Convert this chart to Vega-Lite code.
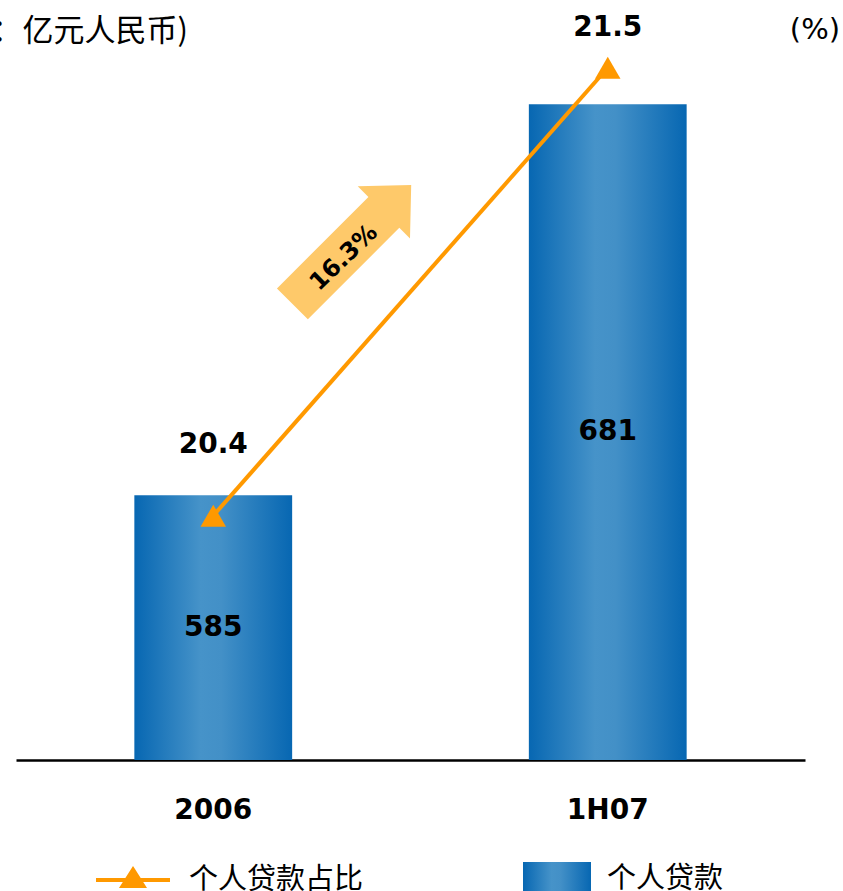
{
  "$schema": "https://vega.github.io/schema/vega-lite/v6.json",
  "width": 789,
  "height": 733,
  "autosize": {"type": "none"},
  "padding": {"left": 16, "top": 27, "right": 38, "bottom": 131},
  "background": "white",
  "config": {"view": {"stroke": null}, "font": "DejaVu Sans"},
  "datasets": {
    "loans": [
      {"period": "2006", "loans": 585, "share": 20.4},
      {"period": "1H07", "loans": 681, "share": 21.5}
    ],
    "notes": [
      {"growth": "16.3%", "unit": "(单位：亿元人民币)", "pctUnit": "(%)"}
    ]
  },
  "data": {"name": "loans"},
  "layer": [
    {
      "mark": {
        "type": "bar",
        "color": {
          "gradient": "linear",
          "x1": 0, "y1": 0, "x2": 1, "y2": 0,
          "stops": [
            {"offset": 0, "color": "#0767b2"},
            {"offset": 0.42, "color": "#4693c9"},
            {"offset": 0.55, "color": "#4390c7"},
            {"offset": 1, "color": "#0767b2"}
          ]
        }
      },
      "encoding": {
        "x": {
          "field": "period", "type": "nominal", "sort": null,
          "scale": {"domain": ["2006", "1H07"], "paddingInner": 0.6, "paddingOuter": 0.3},
          "axis": {
            "title": null, "labelAngle": 0, "labelFont": "DejaVu Sans", "labelFontWeight": "bold",
            "labelFontSize": 28, "labelColor": "#000", "labelPadding": 36, "ticks": false,
            "domainColor": "#000", "domainWidth": 2.5, "grid": false
          }
        },
        "y": {
          "field": "loans", "type": "quantitative",
          "scale": {"domain": [520, 700], "zero": false, "nice": false},
          "axis": null
        },
        "y2": {"datum": 520},
        "opacity": {
          "datum": "个人贷款", "type": "nominal",
          "scale": {"range": [1]},
          "legend": {
            "title": null, "orient": "none", "legendX": 506, "legendY": 817, "padding": 0,
            "symbolType": "M-1,-0.5H1V0.5H-1Z M-0.5,-0.5V0.5 M0,-0.5V0.5 M0.5,-0.5V0.5 M-1,0H1",
            "symbolSize": 4624, "symbolStrokeWidth": 1.5, "symbolOpacity": 1,
            "symbolFillColor": "#4a93c9", "symbolStrokeColor": "#1c6cb0",
            "labelFont": "Noto Sans CJK SC", "labelFontSize": 29, "labelColor": "#000", "labelOffset": 15, "labelLimit": 400
          }
        }
      }
    },
    {
      "mark": {"type": "line", "strokeWidth": 4},
      "encoding": {
        "x": {"field": "period", "type": "nominal", "sort": null},
        "y": {"field": "share", "type": "quantitative", "scale": {"domain": [19.8, 21.6], "zero": false, "nice": false}, "axis": null},
        "stroke": {
          "datum": "个人贷款占比", "type": "nominal",
          "scale": {"range": ["#ff9900"]},
          "legend": {
            "title": null, "orient": "none", "legendX": 78, "legendY": 814, "padding": 0,
            "symbolType": "M-1,0H1M0,-0.28L0.28,0.16L-0.28,0.16Z",
            "symbolSize": 5476, "symbolStrokeWidth": 4, "symbolOpacity": 1,
            "symbolFillColor": "#ff9900",
            "labelFont": "Noto Sans CJK SC", "labelFontSize": 29, "labelColor": "#000", "labelOffset": 17, "labelLimit": 400
          }
        }
      }
    },
    {
      "mark": {"type": "point", "shape": "triangle-up", "filled": true, "size": 650, "color": "#ff9900", "opacity": 1},
      "encoding": {
        "x": {"field": "period", "type": "nominal", "sort": null},
        "y": {"field": "share", "type": "quantitative", "scale": {"domain": [19.8, 21.6], "zero": false, "nice": false}, "axis": null}
      }
    },
    {
      "mark": {"type": "text", "font": "DejaVu Sans", "fontWeight": "bold", "fontSize": 28, "color": "#000", "baseline": "middle"},
      "encoding": {
        "x": {"field": "period", "type": "nominal", "sort": null},
        "y": {"field": "loans", "type": "quantitative", "scale": {"domain": [520, 880], "zero": false, "nice": false}, "axis": null},
        "text": {"field": "loans", "type": "quantitative"}
      }
    },
    {
      "mark": {"type": "text", "font": "DejaVu Sans", "fontWeight": "bold", "fontSize": 28, "color": "#000", "baseline": "middle"},
      "encoding": {
        "x": {"field": "period", "type": "nominal", "sort": null},
        "y": {"field": "share", "type": "quantitative", "scale": {"domain": [19.569, 21.503], "zero": false, "nice": false}, "axis": null},
        "text": {"field": "share", "type": "quantitative", "format": ".1f"}
      }
    },
    {
      "data": {"name": "notes"},
      "mark": {
        "type": "point", "filled": true, "color": "#fec96a", "opacity": 1, "strokeWidth": 0,
        "shape": "M-1,-0.26L0.54,-0.26L0.54,-0.44L1,0L0.54,0.44L0.54,0.26L-1,0.26Z",
        "size": 28224, "angle": 315
      },
      "encoding": {
        "x": {"datum": "2006", "type": "nominal", "bandPosition": 1.378},
        "y": {"datum": 21.066, "type": "quantitative", "scale": {"domain": [19.8, 21.6], "zero": false, "nice": false}, "axis": null}
      }
    },
    {
      "data": {"name": "notes"},
      "mark": {"type": "text", "font": "DejaVu Sans", "fontWeight": "bold", "fontSize": 24, "color": "#000", "baseline": "middle", "align": "center", "angle": 316},
      "encoding": {
        "x": {"datum": "2006", "type": "nominal", "bandPosition": 1.329},
        "y": {"datum": 21.033, "type": "quantitative", "scale": {"domain": [19.8, 21.6], "zero": false, "nice": false}, "axis": null},
        "text": {"field": "growth"}
      }
    },
    {
      "data": {"name": "notes"},
      "mark": {"type": "text", "font": "Noto Sans CJK SC", "fontSize": 31, "color": "#000", "baseline": "middle", "align": "right"},
      "encoding": {
        "x": {"datum": "2006", "type": "nominal", "bandPosition": 0.34},
        "y": {"datum": 21.588, "type": "quantitative", "scale": {"domain": [19.8, 21.6], "zero": false, "nice": false}, "axis": null},
        "text": {"field": "unit"}
      }
    },
    {
      "data": {"name": "notes"},
      "mark": {"type": "text", "font": "DejaVu Sans", "fontSize": 29, "color": "#000", "baseline": "middle", "align": "right"},
      "encoding": {
        "x": {"datum": "1H07", "type": "nominal", "bandPosition": 1.972},
        "y": {"datum": 21.593, "type": "quantitative", "scale": {"domain": [19.8, 21.6], "zero": false, "nice": false}, "axis": null},
        "text": {"field": "pctUnit"}
      }
    }
  ],
  "resolve": {"scale": {"y": "independent"}}
}
